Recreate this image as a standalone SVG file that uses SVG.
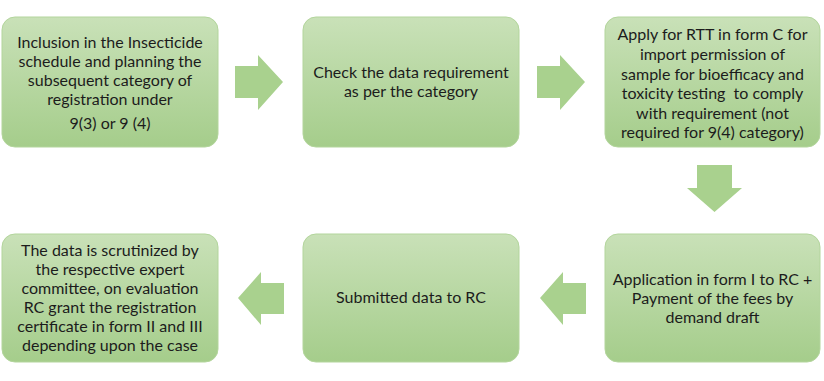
<svg xmlns="http://www.w3.org/2000/svg" width="824" height="381" viewBox="0 0 824 381">
<defs>
<linearGradient id="g" x1="0" y1="0" x2="0" y2="1">
<stop offset="0" stop-color="#c9e1b8"/>
<stop offset="1" stop-color="#a5cd8b"/>
</linearGradient>
<style>
.box{fill:url(#g);stroke:#b3d59c;stroke-width:1}
.arr{fill:#a9d18e}
text{font-family:Lato,"Open Sans","Liberation Sans",sans-serif;font-size:16px;fill:#1c1c1c;text-anchor:middle}
</style>
</defs>
<rect width="824" height="381" fill="#ffffff"/>
<g id="connectors">
<polygon class="arr" points="235,66 258,66 258,55 283,82 258,110 258,98 235,98"/>
<polygon class="arr" points="537,66 560,66 560,55 585,82 560,110 560,98 537,98"/>
<polygon class="arr" points="697,165 732,165 732,188 742,188 714.5,212 687,188 697,188"/>
<polygon class="arr" points="586,283 563,283 563,272 540,298 563,325 563,314 586,314"/>
<polygon class="arr" points="284,283 261,283 261,272 238,298 261,325 261,314 284,314"/>
</g>
<g id="n1">
<rect class="box" x="2" y="17" width="216" height="130" rx="13"/>
<text x="110" y="48">Inclusion in the Insecticide</text>
<text x="110" y="67">schedule and planning the</text>
<text x="110" y="86">subsequent category of</text>
<text x="110" y="105">registration under</text>
<text x="110" y="129">9(3) or 9 (4)</text>
</g>
<g id="n2">
<rect class="box" x="303" y="17" width="216" height="130" rx="13"/>
<text x="411" y="78">Check the data requirement</text>
<text x="411" y="97">as per the category</text>
</g>
<g id="n3">
<rect class="box" x="605" y="17" width="215" height="130" rx="13"/>
<text x="712.5" y="40">Apply for RTT in form C for</text>
<text x="712.5" y="60">import permission of</text>
<text x="712.5" y="80">sample for bioefficacy and</text>
<text x="712.5" y="99">toxicity testing&#160; to comply</text>
<text x="712.5" y="119">with requirement (not</text>
<text x="712.5" y="138">required for 9(4) category)</text>
</g>
<g id="n4">
<rect class="box" x="605" y="234" width="215" height="128" rx="13"/>
<text x="712.5" y="285">Application in form I to RC +</text>
<text x="712.5" y="304">Payment of the fees by</text>
<text x="712.5" y="323">demand draft</text>
</g>
<g id="n5">
<rect class="box" x="303" y="234" width="216" height="128" rx="13"/>
<text x="411" y="303">Submitted data to RC</text>
</g>
<g id="n6">
<rect class="box" x="2" y="234" width="216" height="128" rx="13"/>
<text x="110" y="256">The data is scrutinized by</text>
<text x="110" y="275">the respective expert</text>
<text x="110" y="294">committee, on evaluation</text>
<text x="110" y="313">RC grant the registration</text>
<text x="110" y="332">certificate in form II and III</text>
<text x="110" y="351">depending upon the case</text>
</g>
</svg>
